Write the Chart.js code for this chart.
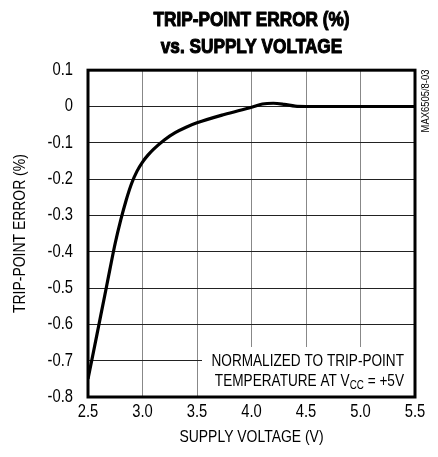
<!DOCTYPE html>
<html>
<head>
<meta charset="utf-8">
<script src="https://cdn.jsdelivr.net/npm/chart.js@4/dist/chart.umd.min.js"></script>
<style>
  html, body { margin: 0; padding: 0; background: #fff; }
  #wrap { width: 438px; height: 457px; }
</style>
</head>
<body>
<div id="wrap"><canvas id="tp_chart" width="438" height="457"></canvas></div>
<script>
// data
var supplyVoltage = [2.5, 2.55, 2.6, 2.65, 2.7, 2.75, 2.8, 2.85, 2.9, 2.95, 3.0, 3.05, 3.1, 3.2, 3.3, 3.4, 3.5, 3.75, 4.0, 4.1, 4.2, 4.3, 4.4, 4.5, 5.0, 5.5];
var tripPointError = [-0.75, -0.676, -0.601, -0.526, -0.45, -0.376, -0.313, -0.258, -0.212, -0.178, -0.153, -0.134, -0.118, -0.092, -0.072, -0.057, -0.045, -0.022, -0.002, 0.007, 0.009, 0.006, 0.001, 0, 0, 0];
var xTicks = [2.5, 3.0, 3.5, 4.0, 4.5, 5.0, 5.5];
var yTicks = [0.1, 0, -0.1, -0.2, -0.3, -0.4, -0.5, -0.6, -0.7, -0.8];

var FONT = '"Liberation Sans", Arial, sans-serif';

// no narrow face installed: squeeze text horizontally like Helvetica Narrow
var origFill = CanvasRenderingContext2D.prototype.fillText;
CanvasRenderingContext2D.prototype.fillText = function (t, x, y, mw) {
  var w = this.measureText(t).width * 0.82;
  if (mw !== undefined && mw < w) w = mw;
  if (/bold/.test(this.font)) {
    this.save();
    this.lineWidth = 1.1;
    this.lineJoin = 'round';
    this.strokeStyle = this.fillStyle;
    this.strokeText(t, x, y, w);
    this.restore();
  }
  origFill.call(this, t, x, y, w);
};
function narrowWidth(c, t) { return c.measureText(t).width * 0.82; }

var points = supplyVoltage.map(function (v, i) { return { x: v, y: tripPointError[i] }; });

// white note box, frame and side label
var extras = {
  id: 'extras',
  beforeDatasetsDraw: function (chart) {
    var c = chart.ctx, a = chart.chartArea;
    c.save();
    c.fillStyle = '#fff';
    c.fillRect(202, 347, a.right - 202 - 1, a.bottom - 347 - 1);
    c.restore();
  },
  afterDatasetsDraw: function (chart) {
    var c = chart.ctx, a = chart.chartArea;
    c.save();
    c.strokeStyle = '#000';
    c.lineWidth = 3;
    c.strokeRect(a.left, a.top, a.right - a.left, a.bottom - a.top);

    // note text
    var big = '16.6px ' + FONT, small = '12px ' + FONT;
    c.fillStyle = '#000';
    c.textBaseline = 'middle';
    c.font = big;
    c.textAlign = 'right';
    c.fillText('NORMALIZED TO TRIP-POINT', 404, 361);
    var p1 = 'TEMPERATURE AT V', p2 = 'CC', p3 = ' = +5V';
    var w1 = narrowWidth(c, p1), w3 = narrowWidth(c, p3);
    c.font = small;
    var w2 = narrowWidth(c, p2);
    var x0 = 404 - w1 - w2 - w3;
    c.textAlign = 'left';
    c.font = big;
    c.fillText(p1, x0, 381);
    c.font = small;
    c.fillText(p2, x0 + w1, 386);
    c.font = big;
    c.fillText(p3, x0 + w1 + w2, 381);

    // side code
    c.translate(426, 101);
    c.rotate(-Math.PI / 2);
    c.textAlign = 'center';
    c.font = '11.5px ' + FONT;
    c.fillText('MAX6505/8-03', 0, 0);
    c.restore();
  }
};

var chart = new Chart(document.getElementById('tp_chart').getContext('2d'), {
  type: 'line',
  data: {
    datasets: [{
      data: points,
      borderColor: '#000',
      borderWidth: 3.2,
      pointRadius: 0,
      fill: false,
      cubicInterpolationMode: 'monotone'
    }]
  },
  options: {
    responsive: false,
    animation: false,
    events: [],
    layout: { padding: { right: 23 } },
    plugins: {
      legend: { display: false },
      tooltip: { enabled: false },
      title: {
        display: true,
        fullSize: false,
        text: ['TRIP-POINT ERROR (%)', 'vs. SUPPLY VOLTAGE'],
        color: '#000',
        font: { family: FONT, size: 21, weight: 'bold', lineHeight: 1.29 },
        padding: { top: 7, bottom: 9 }
      }
    },
    scales: {
      x: {
        type: 'linear',
        min: 2.5, max: 5.5,
        afterBuildTicks: function (s) { s.ticks = xTicks.map(function (v) { return { value: v }; }); },
        afterFit: function (s) { s.height = 60; },
        grid: { color: '#888', lineWidth: 1, drawTicks: false },
        border: { display: false },
        ticks: {
          color: '#000', padding: 4, maxRotation: 0,
          font: { family: FONT, size: 18 },
          callback: function (v) { return Number(v).toFixed(1); }
        },
        title: {
          display: true, text: 'SUPPLY VOLTAGE (V)', color: '#000',
          font: { family: FONT, size: 17, lineHeight: 1.2 },
          padding: { top: 0, bottom: 9 }
        }
      },
      y: {
        min: -0.8, max: 0.1,
        afterBuildTicks: function (s) { s.ticks = yTicks.map(function (v) { return { value: v }; }); },
        afterFit: function (s) { s.width = 88; },
        grid: { color: '#222', lineWidth: 1, drawTicks: false },
        border: { display: false },
        ticks: {
          color: '#000', padding: 15,
          font: { family: FONT, size: 18 },
          callback: function (v) { var r = Math.round(v * 10) / 10; return r === 0 ? '0' : String(r); }
        },
        title: {
          display: true, text: 'TRIP-POINT ERROR (%)', color: '#000',
          font: { family: FONT, size: 17, lineHeight: 1.2 },
          padding: { top: 10, bottom: 0 }
        }
      }
    }
  },
  plugins: [extras]
});
</script>
</body>
</html>
